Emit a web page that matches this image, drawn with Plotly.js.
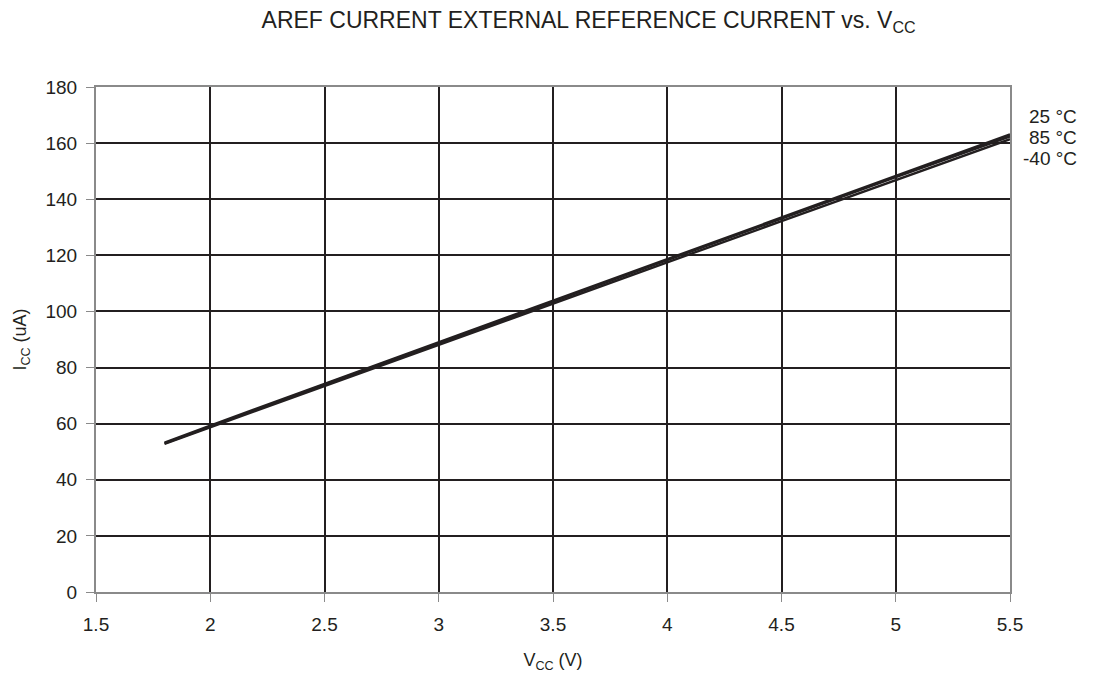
<!DOCTYPE html>
<html>
<head>
<meta charset="utf-8">
<script src="https://cdn.plot.ly/plotly-3.0.1.min.js"></script>
<style>html,body{margin:0;padding:0;background:#fff;}#chart{width:1094px;height:679px;}</style>
</head>
<body>
<div id="chart"></div>
<script>
const vcc = [1.8, 2, 2.5, 3, 3.5, 4, 4.5, 5, 5.5];
const i25 = [53.2, 59.3, 74.2, 89.0, 103.8, 118.7, 133.5, 148.3, 163.1];
const i85 = [53.0, 59.0, 73.9, 88.7, 103.5, 118.3, 133.1, 147.9, 162.4];
const iM40 = [52.8, 58.7, 73.4, 88.1, 102.8, 117.5, 132.2, 146.9, 161.4];
const seriesNames = ["25 °C", "85 °C", "-40 °C"];
const xTicks = [1.5, 2, 2.5, 3, 3.5, 4, 4.5, 5, 5.5];
const yTicks = [0, 20, 40, 60, 80, 100, 120, 140, 160, 180];

const font = "Liberation Sans, Arial, Helvetica, sans-serif";
const ink = "#231f20";
const series = [i25, i85, iM40];
const traces = series.map((ys, k) => ({
  x: vcc, y: ys, type: "scatter", mode: "lines", name: seriesNames[k],
  line: {color: ink, width: 2.4}, hoverinfo: "skip"
}));
const labelY = [0.942, 0.900, 0.858];
const annotations = seriesNames.map((n, k) => ({
  text: n, xref: "paper", yref: "paper", x: 1.0755, y: labelY[k],
  xanchor: "right", yanchor: "middle", showarrow: false,
  font: {family: font, size: 19, color: ink}
}));

const layout = {
  width: 1094, height: 679,
  margin: {l: 96, r: 84, t: 87, b: 87},
  paper_bgcolor: "#fff", plot_bgcolor: "#fff",
  showlegend: false,
  title: {text: "AREF CURRENT EXTERNAL REFERENCE CURRENT vs. V<sub>CC</sub>",
    x: 0.539, xref: "paper", xanchor: "center", y: 0.97, yanchor: "middle",
    font: {family: font, size: 23, color: ink}},
  xaxis: {
    range: [1.5, 5.5], tickvals: xTicks, ticktext: xTicks.map(String),
    showgrid: true, gridcolor: ink, gridwidth: 2, zeroline: false,
    showline: true, linecolor: "#8a8a8a", linewidth: 2, mirror: true,
    ticks: "outside", ticklen: 8, tickcolor: "#8a8a8a", tickwidth: 1,
    ticklabelstandoff: 6,
    tickfont: {family: font, size: 19, color: ink},
    title: {text: "V<sub>CC</sub> (V)", font: {family: font, size: 18, color: ink}, standoff: 20}
  },
  yaxis: {
    range: [0, 180], tickvals: yTicks, ticktext: yTicks.map(String),
    showgrid: true, gridcolor: ink, gridwidth: 2, zeroline: false,
    showline: true, linecolor: "#8a8a8a", linewidth: 2, mirror: true,
    ticks: "outside", ticklen: 8, tickcolor: "#8a8a8a", tickwidth: 1,
    ticklabelstandoff: 5,
    tickfont: {family: font, size: 19, color: ink},
    title: {text: "I<sub>CC</sub> (uA)", font: {family: font, size: 18, color: ink}, standoff: 14}
  },
  annotations: annotations
};
Plotly.newPlot("chart", traces, layout, {displayModeBar: false, staticPlot: true});
</script>
</body>
</html>
